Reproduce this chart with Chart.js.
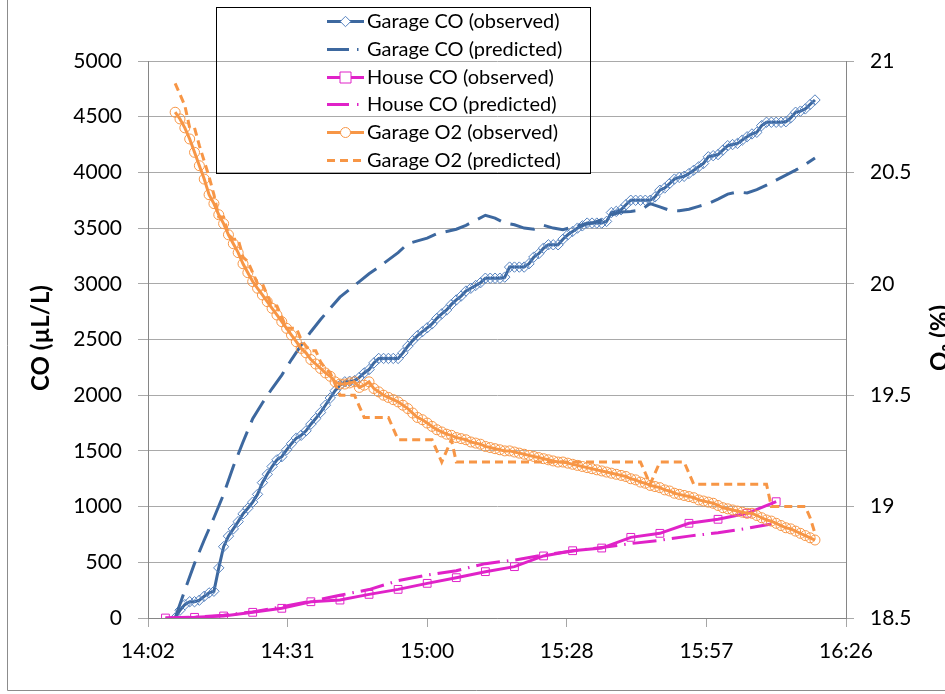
<!DOCTYPE html>
<html><head><meta charset="utf-8">
<script src="https://cdn.jsdelivr.net/npm/chart.js@4/dist/chart.umd.min.js"></script>
<style>html,body{margin:0;padding:0;background:#fff;}#wrap{position:relative;width:945px;height:694px;}</style>
</head><body><div id="wrap"><canvas id="c" width="945" height="694"></canvas></div>
<script>
// ---- axis ranges and tick labels ----
const xAxisMin = "14:02:24";
const xAxisMax = "16:26:24";
const xTickTimes = ["14:02:24","14:31:12","15:00:00","15:28:48","15:57:36","16:26:24"];
const coAxis = {min:0, max:5000, step:500};
const o2Axis = {min:18.5, max:21, step:0.5};

// ---- series names ----
const seriesNames = ["Garage CO (observed)","Garage CO (predicted)","House CO (observed)","House CO (predicted)","Garage O2 (observed)","Garage O2 (predicted)"];

// ---- garage logger: one reading per minute starting 14:08 ----
const garageStart = "14:08";
const garageStepMin = 1;
const garageCOObserved = [0,70,120,146,146,160,195,225,240,450,
 640,735,800,865,935,985,1040,1110,1215,1290,
 1360,1420,1448,1510,1565,1615,1640,1680,1740,1790,
 1845,1910,1975,2040,2090,2120,2125,2130,2160,2200,
 2230,2290,2330,2330,2330,2330,2330,2380,2440,2490,
 2535,2570,2605,2640,2690,2730,2765,2815,2855,2890,
 2935,2960,2985,3010,3050,3050,3050,3050,3060,3150,
 3150,3150,3150,3180,3240,3270,3320,3350,3350,3350,
 3400,3440,3470,3500,3520,3545,3545,3545,3545,3560,
 3640,3650,3665,3710,3750,3750,3750,3750,3750,3780,
 3840,3860,3900,3940,3955,3965,3990,4020,4050,4080,
 4140,4150,4160,4200,4240,4250,4260,4290,4320,4345,
 4360,4420,4450,4450,4450,4450,4455,4490,4540,4550,
 4570,4610,4650];
const garageO2Observed = [20.77,20.74,20.70,20.65,20.59,20.53,20.47,20.40,20.36,20.31,
 20.27,20.22,20.18,20.14,20.09,20.05,20.01,19.98,19.95,19.92,
 19.89,19.86,19.83,19.80,19.77,19.74,19.71,19.69,19.66,19.64,
 19.62,19.60,19.585,19.56,19.55,19.55,19.555,19.56,19.535,19.545,
 19.56,19.53,19.515,19.50,19.49,19.48,19.47,19.455,19.44,19.42,
 19.40,19.39,19.375,19.36,19.345,19.335,19.325,19.32,19.31,19.305,
 19.30,19.29,19.285,19.28,19.27,19.265,19.26,19.255,19.25,19.25,
 19.245,19.24,19.235,19.23,19.225,19.22,19.215,19.21,19.205,19.20,
 19.20,19.195,19.19,19.185,19.18,19.175,19.17,19.165,19.16,19.155,
 19.15,19.145,19.14,19.135,19.125,19.12,19.11,19.105,19.095,19.09,
 19.085,19.075,19.07,19.06,19.055,19.05,19.045,19.04,19.03,19.025,
 19.02,19.015,19.005,18.995,18.99,18.985,18.98,18.975,18.97,18.97,
 18.96,18.95,18.94,18.935,18.925,18.915,18.905,18.90,18.89,18.88,
 18.87,18.86,18.85];
const garageO2Predicted = [20.90,20.85,20.80,20.70,20.70,20.62,20.55,20.48,20.40,20.30,
 20.30,20.22,20.20,20.20,20.12,20.10,20.05,20.00,20.00,19.95,
 19.90,19.90,19.85,19.80,19.80,19.80,19.75,19.72,19.70,19.70,
 19.65,19.62,19.60,19.55,19.50,19.50,19.50,19.50,19.45,19.40,
 19.40,19.40,19.40,19.40,19.40,19.35,19.30,19.30,19.30,19.30,
 19.30,19.30,19.30,19.30,19.25,19.20,19.25,19.30,19.20,19.20,
 19.20,19.20,19.20,19.20,19.20,19.20,19.20,19.20,19.20,19.20,
 19.20,19.20,19.20,19.20,19.20,19.20,19.20,19.20,19.20,19.20,
 19.20,19.20,19.20,19.20,19.20,19.20,19.20,19.20,19.20,19.20,
 19.20,19.20,19.20,19.20,19.20,19.20,19.20,19.15,19.10,19.15,
 19.20,19.20,19.20,19.20,19.20,19.20,19.15,19.10,19.10,19.10,
 19.10,19.10,19.10,19.10,19.10,19.10,19.10,19.10,19.10,19.10,
 19.10,19.10,19.10,19.00,19.00,19.00,19.00,19.00,19.00,19.00,
 19.00,18.95,18.88];

// ---- garage CO model output: every 2 minutes starting 14:08 ----
const garageCOPredStart = "14:08";
const garageCOPredStepMin = 2;
const garageCOPredicted = [0,250,490,700,900,1110,1360,1580,1790,1930,
 2060,2180,2320,2450,2570,2680,2780,2880,2950,3020,
 3090,3150,3215,3280,3360,3385,3410,3450,3470,3490,
 3525,3570,3615,3590,3545,3530,3500,3490,3525,3500,
 3485,3510,3530,3545,3575,3620,3645,3650,3660,3720,
 3690,3660,3655,3670,3695,3720,3760,3805,3825,3815,
 3845,3885,3930,3975,4020,4070,4130];

// ---- house ----
const houseObsTimes = ["14:06","14:12","14:18","14:24","14:30","14:36","14:42","14:48","14:54","15:00","15:06",
 "15:12","15:18","15:24","15:30","15:36","15:42","15:48","15:54","16:00","16:06","16:12"];
const houseCOObserved = [0,6,18,51,87,146,161,212,257,311,362,416,461,557,604,628,724,760,850,886,940,1044];
const housePredTimes = ["14:06","14:12","14:18","14:24","14:30","14:36","14:42","14:48","14:54","15:00","15:06",
 "15:12","15:18","15:24","15:30","15:36","15:42","15:48","15:54","16:00","16:06","16:11"];
const houseCOPredicted = [0,8,25,55,100,150,205,255,335,385,425,488,520,565,602,633,668,698,735,765,805,844];

// ---- helpers ----
function toMin(s){const p=s.split(':').map(Number);return p[0]*60+p[1]+(p[2]||0)/60;}
function fmtTime(m){const h=Math.floor(m/60+1e-9);const mm=Math.floor(m-h*60+1e-6);return h+':'+String(mm).padStart(2,'0');}
function seq(start,step,vals){const t0=toMin(start);return vals.map((v,i)=>({x:t0+i*step,y:v}));}
function pairs(times,vals){return vals.map((v,i)=>({x:toMin(times[i]),y:v}));}

const BLUE='#3d689f', BLUE_M='#5582bf', PINK='#e022c8', ORANGE='#f79646';
const FONT='Lato';

const datasets=[
 {label:seriesNames[0],data:seq(garageStart,garageStepMin,garageCOObserved),yAxisID:'y',borderColor:BLUE,borderWidth:3,
  pointStyle:'rectRot',pointRadius:5.2,pointBorderColor:BLUE_M,pointBackgroundColor:'rgba(255,255,255,0)',pointBorderWidth:1,order:6,legendDash:[]},
 {label:seriesNames[1],data:seq(garageCOPredStart,garageCOPredStepMin,garageCOPredicted),yAxisID:'y',borderColor:BLUE,borderWidth:3,
  borderDash:[25,10],pointRadius:0,order:5,legendDash:[22,8,1.5,8]},
 {label:seriesNames[2],data:pairs(houseObsTimes,houseCOObserved),yAxisID:'y',borderColor:PINK,borderWidth:3,
  pointStyle:'rect',pointRadius:5.5,pointBorderColor:PINK,pointBackgroundColor:'rgba(255,255,255,0)',pointBorderWidth:1,order:4,legendDash:[]},
 {label:seriesNames[3],data:pairs(housePredTimes,houseCOPredicted),yAxisID:'y',borderColor:PINK,borderWidth:3,
  borderDash:[24,7,1.5,7],pointRadius:0,order:3,legendDash:[22,8,1.5,8]},
 {label:seriesNames[4],data:seq(garageStart,garageStepMin,garageO2Observed),yAxisID:'y1',borderColor:ORANGE,borderWidth:3,
  pointStyle:'circle',pointRadius:5,pointBorderColor:ORANGE,pointBackgroundColor:'rgba(255,255,255,0)',pointBorderWidth:1,order:2,legendDash:[]},
 {label:seriesNames[5],data:seq(garageStart,garageStepMin,garageO2Predicted),yAxisID:'y1',borderColor:ORANGE,borderWidth:3,
  borderDash:[8,5],pointRadius:0,order:1,legendDash:[8,5]}
];
datasets.forEach(d=>{d.showLine=true;d.fill=false;d.tension=0;d.borderCapStyle='butt';});

const decor={
 id:'decor',
 afterDraw(chart){
  const ctx=chart.ctx;
  ctx.save();
  // outer chart border
  ctx.strokeStyle='#8c8c8c';ctx.lineWidth=1;ctx.setLineDash([]);
  ctx.beginPath();ctx.moveTo(7.5,0);ctx.lineTo(7.5,690.5);ctx.lineTo(945,690.5);ctx.stroke();
  // axis titles
  ctx.fillStyle='#000';
  ctx.font='bold 24px '+FONT;
  ctx.textAlign='center';ctx.textBaseline='middle';
  ctx.save();ctx.translate(41,338);ctx.rotate(-Math.PI/2);ctx.fillText('CO (µL/L)',0,0);ctx.restore();
  ctx.save();ctx.translate(940,338);ctx.rotate(-Math.PI/2);ctx.fillText('O₂ (%)',0,0);ctx.restore();
  // legend
  ctx.strokeStyle='#000';ctx.lineWidth=1;
  ctx.strokeRect(216.5,7.5,374,166);
  ctx.font='20px '+FONT;ctx.textAlign='left';ctx.textBaseline='middle';
  chart.data.datasets.forEach((ds,i)=>{
   const y=Math.round(21+27.8*i)+0.5;
   ctx.save();
   ctx.strokeStyle=ds.borderColor;ctx.lineWidth=ds.borderWidth;ctx.lineCap='butt';
   ctx.setLineDash(ds.legendDash||[]);
   ctx.beginPath();ctx.moveTo(327,y);ctx.lineTo(364,y);ctx.stroke();
   ctx.setLineDash([]);
   if(ds.pointRadius>0){
    ctx.strokeStyle=ds.pointBorderColor;ctx.lineWidth=ds.pointBorderWidth;ctx.fillStyle='#fff';
    ctx.beginPath();
    const r=ds.pointRadius;
    if(ds.pointStyle==='circle'){ctx.arc(345.5,y,r,0,Math.PI*2);}
    else if(ds.pointStyle==='rect'){ctx.rect(345.5-r,y-r,2*r,2*r);}
    else {ctx.moveTo(345.5,y-r);ctx.lineTo(345.5+r,y);ctx.lineTo(345.5,y+r);ctx.lineTo(345.5-r,y);ctx.closePath();}
    ctx.fill();ctx.stroke();
   }
   ctx.restore();
   ctx.fillStyle='#000';
   ctx.fillText(ds.label,367,y);
  });
  ctx.restore();
 }
};

function build(){
 new Chart(document.getElementById('c'),{
  type:'scatter',
  data:{datasets},
  options:{
   responsive:false,animation:false,devicePixelRatio:1,
   layout:{padding:{top:61,left:0,right:0,bottom:0}},
   plugins:{legend:{display:false},tooltip:{enabled:false}},
   scales:{
    x:{type:'linear',position:'bottom',min:toMin(xAxisMin),max:toMin(xAxisMax),
     afterBuildTicks:a=>{a.ticks=xTickTimes.map(s=>({value:toMin(s)}));},
     ticks:{callback:v=>fmtTime(v),font:{family:FONT,size:21},color:'#000',maxRotation:0,autoSkip:false,padding:12},
     grid:{drawOnChartArea:false,color:'#a6a6a6',tickLength:9},
     border:{color:'#868686'},
     afterFit:s=>{s.height=76;}},
    y:{position:'left',min:coAxis.min,max:coAxis.max,
     ticks:{stepSize:coAxis.step,callback:v=>String(v),font:{family:FONT,size:21},color:'#000',padding:16},
     grid:{color:'#a9a9a9',tickLength:10},border:{color:'#868686'},
     afterFit:s=>{s.width=148;}},
    y1:{position:'right',min:o2Axis.min,max:o2Axis.max,
     ticks:{stepSize:o2Axis.step,callback:v=>String(Math.round(v*10)/10),font:{family:FONT,size:21},color:'#000',padding:16},
     grid:{drawOnChartArea:false,color:'#a9a9a9',tickLength:8},border:{color:'#868686'},
     afterFit:s=>{s.width=99;}}
   }
  },
  plugins:[decor]
 });
}
if(document.fonts&&document.fonts.load){
 Promise.all([document.fonts.load('21px Lato'),document.fonts.load('bold 24px Lato'),document.fonts.load('20px Lato')]).then(build,build);
}else build();
</script></body></html>
